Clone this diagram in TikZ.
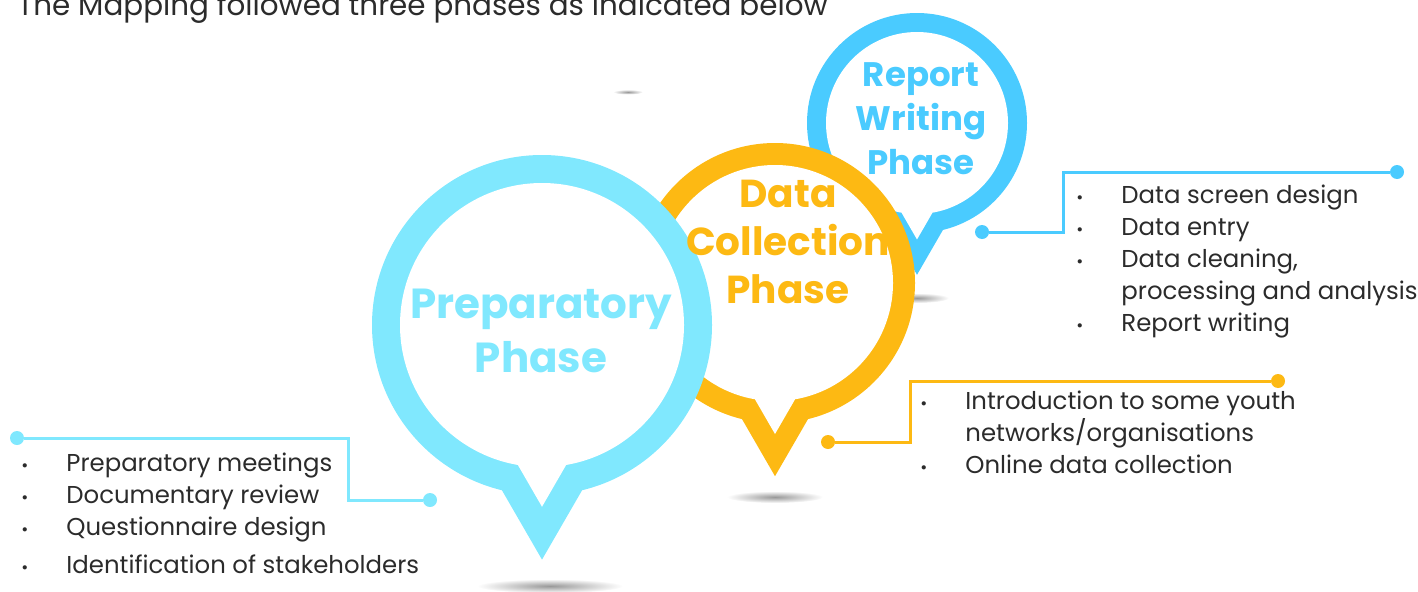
\documentclass[tikz,border=0pt]{standalone}
\usepackage{fontspec}
\setmainfont{Poppins}

\definecolor{prepcol}{HTML}{80E8FE}
\definecolor{datacol}{HTML}{FDB913}
\definecolor{reportcol}{HTML}{4ACBFF}
\definecolor{textgrey}{HTML}{2B2B2B}

\tikzset{
  link/.style={line width=1.5pt},
  dot/.style={circle, fill, inner sep=0pt, minimum size=7pt},
  phase/.style={align=center, inner sep=0pt},
  items/.style={align=left, anchor=base west, inner sep=0pt, text=textgrey,
    font=\fontsize{12.2}{16}\selectfont},
  floorshade/.style={inner color=black!40, outer color=white}
}

% speech-bubble pin: centre x, centre y, outer radius, inner radius, colour
\newcommand{\phasepin}[5]{%
  \begin{scope}[shift={(#1,#2)}]
    \fill[#5] (0,0) circle[radius=#3]
      (-103.65:#3) -- (0,-1.38*#3) -- (-76.35:#3) -- cycle;
    \fill[white] (0,0) circle[radius=#4]
      (-99.8:#4) -- (0,-1.28*#4) -- (-80.2:#4) -- cycle;
  \end{scope}}

\newcommand{\bul}{\makebox[22.5pt][l]{{\fontsize{8.5}{8.5}\selectfont •}}}
\newcommand{\nobul}{\makebox[22.5pt]{}}

\begin{document}
\begin{tikzpicture}[x=0.5pt, y=0.5pt]
    \useasboundingbox (0,0) rectangle (1418,591);

    \node[anchor=base west, inner sep=0pt, text=textgrey, font=\fontsize{14.7}{18}\selectfont] (title) at (17,576)
        {The Mapping followed three phases as indicated below};

    % shadows under the pins
    \shade[floorshade] (628,499) ellipse[x radius=15, y radius=2.5];
    \shade[floorshade] (917,293) ellipse[x radius=32, y radius=5];
    \shade[floorshade] (775,94) ellipse[x radius=48, y radius=6];
    \shade[floorshade] (550,5) ellipse[x radius=73, y radius=7];

    % pins, back to front
    \phasepin{917}{468}{110}{91}{reportcol}
    \phasepin{775}{308}{140}{118}{datacol}
    \phasepin{542}{266}{170}{142}{prepcol}

    \node[phase, text=reportcol, font=\bfseries\fontsize{17}{22}\selectfont] (report) at (921,472) {Report\\Writing\\Phase};
    \node[phase, text=datacol, font=\bfseries\fontsize{19.5}{24}\selectfont] (data) at (788,349.5) {Data\\Collection\\Phase};
    \node[phase, text=prepcol, font=\bfseries\fontsize{21}{27}\selectfont] (prep) at (541,260.5) {Preparatory\\Phase};

    % connectors
    \node[dot, prepcol] (p1) at (17,153) {};
    \node[dot, prepcol] (p2) at (430,91) {};
    \coordinate (pbend) at (348,122);
    \draw[link, prepcol] (p1) -| (pbend) |- (p2);

    \node[dot, datacol] (d1) at (828,149) {};
    \node[dot, datacol] (d2) at (1278,210) {};
    \coordinate (dbend) at (910,180);
    \draw[link, datacol] (d1) -| (dbend) |- (d2);

    \node[dot, reportcol] (r1) at (982,359) {};
    \node[dot, reportcol] (r2) at (1397,419) {};
    \coordinate (rbend) at (1063,389);
    \draw[link, reportcol] (r1) -| (rbend) |- (r2);

    % task lists (anchored on the last line)
    \node[items] (preplist) at (21,18)
        {\bul Preparatory meetings\\ \bul Documentary review\\ \bul Questionnaire design\\[3pt] \bul Identification of stakeholders};
    \node[items] (datalist) at (920,118)
        {\bul Introduction to some youth\\ \nobul networks/organisations\\ \bul Online data collection};
    \node[items] (reportlist) at (1076,260)
        {\bul Data screen design\\ \bul Data entry\\ \bul Data cleaning,\\ \nobul processing and analysis\\ \bul Report writing};

\end{tikzpicture}
\end{document}
